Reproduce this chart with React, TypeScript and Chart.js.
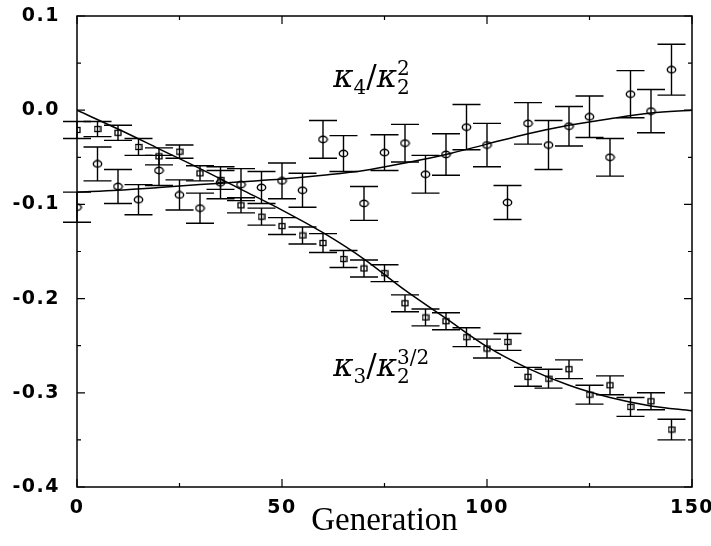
import React, { useEffect, useRef } from 'react';
import { Chart, registerables } from 'chart.js';

Chart.register(...registerables);

// ---------- data ----------
const generations = [0, 5, 10, 15, 20, 25, 30, 35, 40, 45, 50, 55, 60, 65, 70, 75, 80, 85, 90, 95, 100, 105, 110, 115, 120, 125, 130, 135, 140, 145];

// kappa3 / kappa2^{3/2} (squares)
const k3Values = [-0.021, -0.020, -0.024, -0.039, -0.049, -0.044, -0.067, -0.074, -0.101, -0.113, -0.123, -0.133, -0.141, -0.158, -0.168, -0.173, -0.205, -0.220, -0.224, -0.241, -0.253, -0.246, -0.283, -0.285, -0.275, -0.302, -0.292, -0.315, -0.309, -0.339];
const k3Errors = [0.009, 0.008, 0.008, 0.009, 0.009, 0.007, 0.008, 0.010, 0.008, 0.009, 0.009, 0.009, 0.010, 0.009, 0.009, 0.009, 0.009, 0.009, 0.009, 0.010, 0.010, 0.009, 0.010, 0.010, 0.010, 0.010, 0.010, 0.010, 0.009, 0.011];

// kappa4 / kappa2^2 (circles)
const k4Values = [-0.103, -0.057, -0.081, -0.095, -0.064, -0.090, -0.104, -0.077, -0.079, -0.082, -0.075, -0.085, -0.031, -0.046, -0.099, -0.045, -0.035, -0.068, -0.047, -0.018, -0.037, -0.098, -0.014, -0.037, -0.017, -0.007, -0.050, 0.017, -0.001, 0.043];
const k4Errors = [0.016, 0.018, 0.018, 0.016, 0.016, 0.016, 0.016, 0.017, 0.017, 0.017, 0.019, 0.018, 0.020, 0.019, 0.018, 0.019, 0.020, 0.020, 0.022, 0.024, 0.023, 0.018, 0.022, 0.026, 0.021, 0.022, 0.020, 0.025, 0.023, 0.027];

// fitted curves
const fitX = [0, 10, 20, 30, 40, 50, 60, 70, 80, 90, 100, 110, 120, 130, 140, 150];
const k3Fit = [0.0, -0.020, -0.041, -0.062, -0.084, -0.106, -0.130, -0.158, -0.191, -0.221, -0.251, -0.274, -0.292, -0.305, -0.314, -0.319];
const k4Fit = [-0.087, -0.085, -0.082, -0.079, -0.076, -0.073, -0.069, -0.064, -0.056, -0.047, -0.036, -0.025, -0.016, -0.009, -0.003, 0.0];

// axes
const xTickValues = [0, 50, 100, 150];
const xTickLabels = ['0', '50', '100', '150'];
const xMinorTicks = [25, 75, 125];
const yTickValues = [-0.4, -0.3, -0.2, -0.1, 0.0, 0.1];
const yTickLabels = ['-0.4', '-0.3', '-0.2', '-0.1', '0.0', '0.1'];
const yMinorTicks = [-0.35, -0.25, -0.15, -0.05, 0.05];
const xTitle = 'Generation';

// annotation anchors (data coordinates)
const k4LabelPos = { x: 62.5, y: 0.0244 };
const k3LabelPos = { x: 62.5, y: -0.2824 };

type Part = { t: string; font: string; dy: number; stackWith?: Part };

function drawMath(ctx: CanvasRenderingContext2D, x: number, y: number, parts: Part[]) {
  let cx = x;
  for (const p of parts) {
    ctx.font = p.font;
    ctx.fillText(p.t, cx, y + p.dy);
    let w = ctx.measureText(p.t).width;
    if (p.stackWith) {
      ctx.font = p.stackWith.font;
      ctx.fillText(p.stackWith.t, cx, y + p.stackWith.dy);
      w = Math.max(w, ctx.measureText(p.stackWith.t).width);
    }
    cx += w;
  }
}

function makeEllipse(): HTMLCanvasElement {
  const c = document.createElement('canvas');
  c.width = 11;
  c.height = 9;
  const g = c.getContext('2d')!;
  g.strokeStyle = '#000';
  g.lineWidth = 1.4;
  g.beginPath();
  g.ellipse(5.5, 4.5, 4.2, 3.2, 0, 0, Math.PI * 2);
  g.stroke();
  return c;
}

function makeSquare(): HTMLCanvasElement {
  const c = document.createElement('canvas');
  c.width = 8;
  c.height = 8;
  const g = c.getContext('2d')!;
  g.strokeStyle = '#000';
  g.lineWidth = 1.3;
  g.strokeRect(1, 1.5, 6, 5);
  return c;
}

const framePlugin = {
  id: 'frameAndErrors',
  afterDatasetsDraw(chart: any) {
    const { ctx, chartArea, scales } = chart;
    const x = scales.x;
    const y = scales.y;
    ctx.save();
    ctx.strokeStyle = '#000';
    ctx.lineWidth = 1.4;
    // error bars
    chart.data.datasets.forEach((ds: any) => {
      if (!ds.errors) return;
      ds.data.forEach((p: any, i: number) => {
        const px = x.getPixelForValue(p.x);
        const top = y.getPixelForValue(p.y + ds.errors[i]);
        const bot = y.getPixelForValue(p.y - ds.errors[i]);
        ctx.beginPath();
        ctx.moveTo(px, top);
        ctx.lineTo(px, bot);
        ctx.moveTo(px - 14, top);
        ctx.lineTo(px + 14, top);
        ctx.moveTo(px - 14, bot);
        ctx.lineTo(px + 14, bot);
        ctx.stroke();
      });
    });
    // frame
    ctx.lineWidth = 1.5;
    ctx.strokeRect(chartArea.left, chartArea.top, chartArea.right - chartArea.left, chartArea.bottom - chartArea.top);
    // inward ticks
    ctx.lineWidth = 1.2;
    const tick = (vals: number[], len: number, horizontal: boolean) => {
      vals.forEach((v) => {
        ctx.beginPath();
        if (horizontal) {
          const px = x.getPixelForValue(v);
          ctx.moveTo(px, chartArea.bottom);
          ctx.lineTo(px, chartArea.bottom - len);
          ctx.moveTo(px, chartArea.top);
          ctx.lineTo(px, chartArea.top + len);
        } else {
          const py = y.getPixelForValue(v);
          ctx.moveTo(chartArea.left, py);
          ctx.lineTo(chartArea.left + len, py);
          ctx.moveTo(chartArea.right, py);
          ctx.lineTo(chartArea.right - len, py);
        }
        ctx.stroke();
      });
    };
    tick(xTickValues, 8, true);
    tick(xMinorTicks, 4, true);
    tick(yTickValues, 8, false);
    tick(yMinorTicks, 4, false);
    ctx.restore();
    // slightly wider spacing for the tick labels that are drawn next (z = 1 layer)
    (ctx as any).letterSpacing = '1.5px';
  },
  afterDraw(chart: any) {
    const { ctx, scales } = chart;
    (ctx as any).letterSpacing = '0px';
    const x = scales.x;
    const y = scales.y;
    ctx.save();
    ctx.fillStyle = '#000';
    ctx.textAlign = 'left';
    ctx.textBaseline = 'alphabetic';
    const big = 'italic 31px "DejaVu Serif"';
    const slash = '31px "DejaVu Serif"';
    const small = '20px "DejaVu Serif"';
    drawMath(ctx, x.getPixelForValue(k4LabelPos.x), y.getPixelForValue(k4LabelPos.y), [
      { t: 'κ', font: big, dy: 0 },
      { t: '4', font: small, dy: 7 },
      { t: '/', font: slash, dy: 0 },
      { t: 'κ', font: big, dy: 0 },
      { t: '2', font: small, dy: -12, stackWith: { t: '2', font: small, dy: 7 } },
    ]);
    drawMath(ctx, x.getPixelForValue(k3LabelPos.x), y.getPixelForValue(k3LabelPos.y), [
      { t: 'κ', font: big, dy: 0 },
      { t: '3', font: small, dy: 7 },
      { t: '/', font: slash, dy: 0 },
      { t: 'κ', font: big, dy: 0 },
      { t: '3/2', font: small, dy: -12, stackWith: { t: '2', font: small, dy: 7 } },
    ]);
    ctx.restore();
  },
};

export default function App() {
  const ref = useRef<HTMLCanvasElement | null>(null);

  useEffect(() => {
    if (!ref.current) return;
    const ellipse = makeEllipse();
    const square = makeSquare();
    const tickFont = { family: '"DejaVu Sans"', size: 19, weight: 'bold' as const };

    const chart = new Chart(ref.current, {
      type: 'scatter',
      data: {
        datasets: [
          {
            label: 'k4 fit',
            type: 'line',
            data: fitX.map((v, i) => ({ x: v, y: k4Fit[i] })),
            borderColor: '#000',
            borderWidth: 1.5,
            pointRadius: 0,
            cubicInterpolationMode: 'monotone',
            fill: false,
          } as any,
          {
            label: 'k3 fit',
            type: 'line',
            data: fitX.map((v, i) => ({ x: v, y: k3Fit[i] })),
            borderColor: '#000',
            borderWidth: 1.5,
            pointRadius: 0,
            cubicInterpolationMode: 'monotone',
            fill: false,
          } as any,
          {
            label: 'k4/k2^2',
            data: generations.map((g, i) => ({ x: g, y: k4Values[i] })),
            errors: k4Errors,
            pointStyle: ellipse,
            pointRadius: 5,
          } as any,
          {
            label: 'k3/k2^(3/2)',
            data: generations.map((g, i) => ({ x: g, y: k3Values[i] })),
            errors: k3Errors,
            pointStyle: square,
            pointRadius: 4,
          } as any,
        ],
      },
      options: {
        animation: false,
        responsive: false,
        maintainAspectRatio: false,
        layout: { padding: { left: 0, top: 16, right: 19, bottom: 0 } },
        plugins: { legend: { display: false }, tooltip: { enabled: false } },
        scales: {
          x: {
            type: 'linear',
            min: 0,
            max: 150,
            afterBuildTicks: (s: any) => {
              s.ticks = xTickValues.map((v) => ({ value: v }));
            },
            afterFit: (s: any) => {
              s.height = 59;
              s.paddingLeft = 0;
              s.paddingRight = 0;
            },
            ticks: {
              z: 1,
              color: '#000',
              font: tickFont,
              padding: 10,
              maxRotation: 0,
              autoSkip: false,
              callback: (_v: any, i: number) => xTickLabels[i],
            },
            grid: { display: false, drawTicks: false },
            border: { display: false },
            title: {
              display: true,
              text: xTitle,
              color: '#000',
              font: { family: '"Liberation Serif"', size: 33 },
              padding: { top: 0, bottom: 5 },
            },
          },
          y: {
            type: 'linear',
            min: -0.4,
            max: 0.1,
            afterBuildTicks: (s: any) => {
              s.ticks = yTickValues.map((v) => ({ value: v }));
            },
            afterFit: (s: any) => {
              s.width = 77;
              s.paddingTop = 0;
              s.paddingBottom = 0;
            },
            ticks: {
              z: 1,
              color: '#000',
              font: tickFont,
              padding: 17,
              autoSkip: false,
              callback: (_v: any, i: number) => yTickLabels[i],
            },
            grid: { display: false, drawTicks: false },
            border: { display: false },
          },
        },
      } as any,
      plugins: [framePlugin],
    });
    return () => chart.destroy();
  }, []);

  return (
    <div style={{ position: 'fixed', left: 0, top: 0, width: 711, height: 546, background: '#fff' }}>
      <canvas ref={ref} width={711} height={546} style={{ display: 'block', width: 711, height: 546 }} />
    </div>
  );
}
